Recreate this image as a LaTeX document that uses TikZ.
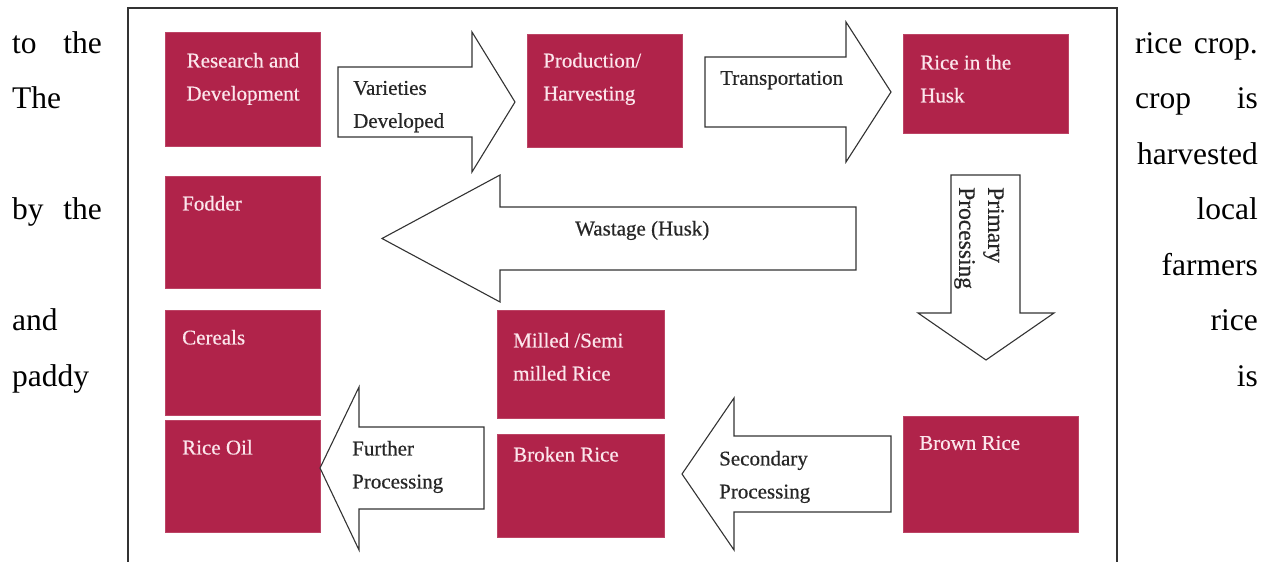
\documentclass[tikz,border=0pt]{standalone}
\usepackage{fontspec}
\setmainfont{Liberation Serif}
\newfontfamily\figfont[FakeBold=0.5]{Liberation Serif}
\usetikzlibrary{positioning}
\definecolor{ricered}{RGB}{176,35,74}
\definecolor{palepink}{RGB}{252,230,236}

\begin{document}
\begin{tikzpicture}
[x=1pt,y=-1pt,
 box/.style={rectangle,fill=ricered,draw=ricered!85!white,line width=0.6pt,inner sep=0pt},
 boxtext/.style={anchor=north west,inner sep=0pt,text=palepink,align=left,font=\figfont\fontsize{21}{33}\selectfont},
 blockarrow/.style={draw=black!80,line width=1.1pt,fill=white,line join=miter},
 arrowtext/.style={anchor=north west,inner sep=0pt,align=left,text=black!85,font=\figfont\fontsize{21}{33}\selectfont},
 pagetext/.style={inner sep=0pt,font=\fontsize{31.5}{38}\selectfont}]

\useasboundingbox (0,0) rectangle (1270,562);

% running text round the figure
\node[pagetext,anchor=base west] (l1a) at (12,53) {to};
\node[pagetext,anchor=base east] (l1b) at (102,53) {the};
\node[pagetext,anchor=base west] (l2) at (12,108.5) {The};
\node[pagetext,anchor=base west] (l4a) at (12,219.5) {by};
\node[pagetext,anchor=base east] (l4b) at (102,219.5) {the};
\node[pagetext,anchor=base west] (l6) at (12,330.5) {and};
\node[pagetext,anchor=base west] (l7) at (12,386) {paddy};

\node[pagetext,anchor=base west] (r1a) at (1135,53) {rice};
\node[pagetext,anchor=base east] (r1b) at (1258,53) {crop.};
\node[pagetext,anchor=base west] (r2a) at (1135,108.5) {crop};
\node[pagetext,anchor=base east] (r2b) at (1258,108.5) {is};
\node[pagetext,anchor=base east] (r3) at (1258,164) {harvested};
\node[pagetext,anchor=base east] (r4) at (1258,219.5) {local};
\node[pagetext,anchor=base east] (r5) at (1258,275) {farmers};
\node[pagetext,anchor=base east] (r6) at (1258,330.5) {rice};
\node[pagetext,anchor=base east] (r7) at (1258,386) {is};

% figure frame
\draw[black!80,line width=1.2pt] (128,562) -- (128,8) -- (1117,8) -- (1117,562);

% boxes
\node[box,minimum width=155pt,minimum height=114pt] (rnd) at (242.5,89) {};
\node[box,minimum width=155pt,minimum height=113pt] (prod) at (604.5,90.5) {};
\node[box,minimum width=165pt,minimum height=99pt] (husk) at (985.5,83.5) {};
\node[box,minimum width=155pt,minimum height=112pt] (fodder) at (242.5,232) {};
\node[box,minimum width=155pt,minimum height=105pt] (cereals) at (242.5,362.5) {};
\node[box,minimum width=155pt,minimum height=112pt] (oil) at (242.5,476) {};
\node[box,minimum width=167pt,minimum height=108pt] (milled) at (580.5,364) {};
\node[box,minimum width=167pt,minimum height=103pt] (broken) at (580.5,485.5) {};
\node[box,minimum width=175pt,minimum height=116pt] (brown) at (990.5,474) {};

\node[boxtext,anchor=north,align=center] (rndtxt) at (243,52.7) {Research and\\Development};
\node[boxtext] (prodtxt) at (543,52.7) {Production/\\Harvesting};
\node[boxtext] (husktxt) at (920,54.7) {Rice in the\\Husk};
\node[boxtext] (foddertxt) at (182,195.7) {Fodder};
\node[boxtext] (cerealstxt) at (182,329.7) {Cereals};
\node[boxtext] (oiltxt) at (182,439.7) {Rice Oil};
\node[boxtext] (milledtxt) at (513,332.7) {Milled /Semi\\milled Rice};
\node[boxtext] (brokentxt) at (513,446.7) {Broken Rice};
\node[boxtext] (browntxt) at (919,435.7) {Brown Rice};

% block arrows
\draw[blockarrow] (338,67) -- (472,67) -- (472,32) -- (515,102) -- (472,172) -- (472,137) -- (338,137) -- cycle;
\draw[blockarrow] (705,57) -- (846,57) -- (846,22) -- (891,92) -- (846,162) -- (846,127) -- (705,127) -- cycle;
\draw[blockarrow] (951,175) -- (1020,175) -- (1020,313) -- (1054,313) -- (986,360) -- (918,313) -- (951,313) -- cycle;
\draw[blockarrow] (856,207) -- (500,207) -- (500,175) -- (382,238.5) -- (500,302) -- (500,270) -- (856,270) -- cycle;
\draw[blockarrow] (484,427) -- (359,427) -- (359,387) -- (320,468) -- (359,550) -- (359,509) -- (484,509) -- cycle;
\draw[blockarrow] (891,436) -- (734,436) -- (734,398) -- (682,474) -- (734,550) -- (734,512) -- (891,512) -- cycle;

\node[arrowtext] (vartxt) at (353,80.7) {Varieties\\Developed};
\node[arrowtext] (transtxt) at (720,70.7) {Transportation};
\node[arrowtext] (wastetxt) at (575,220.7) {Wastage (Husk)};
\node[arrowtext,rotate=-90,font=\figfont\fontsize{23.5}{29}\selectfont] (primtxt) at (1004,187) {Primary\\Processing};
\node[arrowtext] (furthertxt) at (352,440.7) {Further\\Processing};
\node[arrowtext] (secondtxt) at (719,450.7) {Secondary\\Processing};
\end{tikzpicture}
\end{document}
